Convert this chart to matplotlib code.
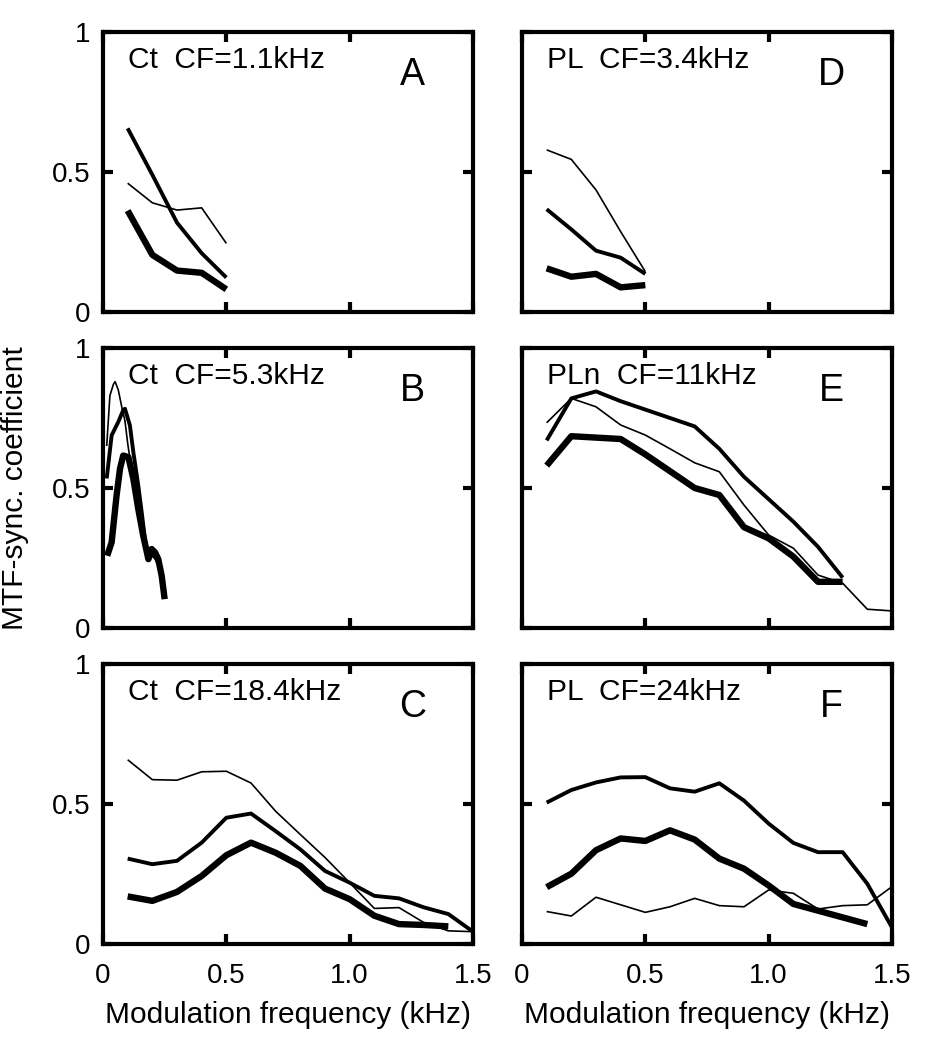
import numpy as np
import matplotlib
matplotlib.use("Agg")
import matplotlib.pyplot as plt

plt.rcParams.update({
    "font.family": ["Liberation Sans", "DejaVu Sans"],
    "axes.linewidth": 3.0,
})

# ── data (kHz, MTF-sync coefficient) ─────────────────────────────
# panel A: Ct CF=1.1kHz
A_X     = [0.1, 0.2, 0.3, 0.4, 0.5]
A_THIN  = [0.46, 0.39, 0.364, 0.372, 0.245]
A_MED   = [0.656, 0.49, 0.319, 0.21, 0.123]
A_THICK = [0.362, 0.204, 0.148, 0.14, 0.081]

# panel D: PL CF=3.4kHz
D_X     = [0.1, 0.2, 0.3, 0.4, 0.5]
D_THIN  = [0.579, 0.545, 0.436, 0.287, 0.144]
D_MED   = [0.367, 0.295, 0.219, 0.194, 0.136]
D_THICK = [0.156, 0.126, 0.136, 0.088, 0.096]

# panel B: Ct CF=5.3kHz (fine steps)
B_X_THIN  = [0.015, 0.028, 0.042, 0.049, 0.062, 0.076, 0.089, 0.1, 0.11,
             0.125, 0.14, 0.155, 0.17, 0.185, 0.2, 0.21, 0.22]
B_THIN    = [0.65, 0.83, 0.87, 0.88, 0.85, 0.79, 0.74, 0.66, 0.6,
             0.52, 0.43, 0.35, 0.3, 0.26, 0.29, 0.25, 0.23]
B_X_MED   = [0.015, 0.035, 0.062, 0.082, 0.089, 0.109, 0.123, 0.143, 0.157,
             0.17, 0.184, 0.197, 0.204, 0.214, 0.224, 0.232]
B_MED     = [0.534, 0.688, 0.736, 0.778, 0.783, 0.724, 0.628, 0.509, 0.413,
             0.318, 0.246, 0.27, 0.258, 0.25, 0.234, 0.2]
B_X_THICK = [0.017, 0.035, 0.055, 0.069, 0.082, 0.103, 0.123, 0.143, 0.163,
             0.184, 0.197, 0.211, 0.224, 0.238, 0.25]
B_THICK   = [0.258, 0.306, 0.473, 0.569, 0.616, 0.61, 0.533, 0.425, 0.33,
             0.246, 0.282, 0.27, 0.246, 0.186, 0.103]

# panel E: PLn CF=11kHz
E_X_THIN  = [0.1, 0.2, 0.3, 0.4, 0.5, 0.6, 0.7, 0.8, 0.9, 1.0, 1.1, 1.2, 1.3, 1.4, 1.5]
E_THIN    = [0.733, 0.82, 0.79, 0.725, 0.689, 0.64, 0.59, 0.558, 0.439, 0.332,
             0.285, 0.189, 0.16, 0.067, 0.061]
E_X       = [0.1, 0.2, 0.3, 0.4, 0.5, 0.6, 0.7, 0.8, 0.9, 1.0, 1.1, 1.2, 1.3]
E_MED     = [0.67, 0.82, 0.845, 0.81, 0.78, 0.75, 0.72, 0.64, 0.54, 0.46, 0.38, 0.29, 0.18]
E_THICK   = [0.58, 0.685, 0.68, 0.675, 0.62, 0.56, 0.50, 0.475, 0.36, 0.32, 0.255, 0.165, 0.165]

# panel C: Ct CF=18.4kHz
C_X       = [0.1, 0.2, 0.3, 0.4, 0.5, 0.6, 0.7, 0.8, 0.9, 1.0, 1.1, 1.2, 1.3, 1.4, 1.5]
C_THIN    = [0.658, 0.587, 0.585, 0.615, 0.617, 0.575, 0.474, 0.391, 0.309, 0.219,
             0.127, 0.13, 0.077, 0.047, 0.044]
C_MED     = [0.305, 0.285, 0.297, 0.362, 0.451, 0.466, 0.403, 0.338, 0.261, 0.219,
             0.172, 0.163, 0.131, 0.107, 0.044]
C_X_THICK = [0.1, 0.2, 0.3, 0.4, 0.5, 0.6, 0.7, 0.8, 0.9, 1.0, 1.1, 1.2, 1.3, 1.4]
C_THICK   = [0.17, 0.154, 0.186, 0.243, 0.317, 0.362, 0.326, 0.279, 0.198, 0.16,
             0.101, 0.071, 0.068, 0.063]

# panel F: PL CF=24kHz
F_X       = [0.1, 0.2, 0.3, 0.4, 0.5, 0.6, 0.7, 0.8, 0.9, 1.0, 1.1, 1.2, 1.3, 1.4, 1.5]
F_THIN    = [0.116, 0.10, 0.167, 0.14, 0.113, 0.133, 0.163, 0.137, 0.133, 0.193,
             0.181, 0.125, 0.137, 0.14, 0.205]
F_MED     = [0.505, 0.55, 0.577, 0.595, 0.596, 0.556, 0.544, 0.574, 0.512, 0.43,
             0.361, 0.328, 0.328, 0.215, 0.059]
F_X_THICK = [0.1, 0.2, 0.3, 0.4, 0.5, 0.6, 0.7, 0.8, 0.9, 1.0, 1.1, 1.2, 1.3, 1.4]
F_THICK   = [0.203, 0.251, 0.335, 0.377, 0.368, 0.406, 0.373, 0.305, 0.269, 0.209,
             0.143, 0.119, 0.095, 0.071]

PANELS = [
    # (row, col, label, letter, thin, medium, thick)
    (0, 0, "Ct  CF=1.1kHz", "A", (A_X, A_THIN), (A_X, A_MED), (A_X, A_THICK)),
    (1, 0, "Ct  CF=5.3kHz", "B", (B_X_THIN, B_THIN), (B_X_MED, B_MED), (B_X_THICK, B_THICK)),
    (2, 0, "Ct  CF=18.4kHz", "C", (C_X, C_THIN), (C_X, C_MED), (C_X_THICK, C_THICK)),
    (0, 1, "PL  CF=3.4kHz", "D", (D_X, D_THIN), (D_X, D_MED), (D_X, D_THICK)),
    (1, 1, "PLn  CF=11kHz", "E", (E_X_THIN, E_THIN), (E_X, E_MED), (E_X, E_THICK)),
    (2, 1, "PL  CF=24kHz", "F", (F_X, F_THIN), (F_X, F_MED), (F_X_THICK, F_THICK)),
]

LW = [1.2, 2.8, 4.6]

# ── layout (figure fractions) ────────────────────────────────────
W, H = 928, 1050
COL_X = [103 / W, 522 / W]
AX_W = 370 / W
ROW_TOP = [32, 348, 664]
AX_H = 280 / H

fig = plt.figure(figsize=(W / 100, H / 100), dpi=100)

for row, col, label, letter, thin, med, thick in PANELS:
    ax = fig.add_axes([COL_X[col], 1 - (ROW_TOP[row] + 280) / H, AX_W, AX_H])
    for (xs, ys), lw in zip([thin, med, thick], LW):
        ax.plot(xs, ys, color="black", lw=lw, solid_capstyle="butt",
                solid_joinstyle="round", clip_on=False)
    ax.set_xlim(0, 1.5)
    ax.set_ylim(0, 1)
    ax.set_xticks([0, 0.5, 1.0, 1.5])
    ax.set_yticks([0, 0.5, 1])
    ax.tick_params(direction="in", length=7, width=3, top=True, right=True,
                   labelsize=20)
    ax.tick_params(axis="x", pad=14)
    ax.tick_params(axis="y", pad=9)
    if col == 0:
        ax.set_yticklabels(["0", "0.5", "1"])
    else:
        ax.set_yticklabels([])
    if row == 2:
        ax.set_xticklabels(["0", "0.5", "1.0", "1.5"])
        ax.set_xlabel("Modulation frequency (kHz)", fontsize=21.5, labelpad=8)
    else:
        ax.set_xticklabels([])
    ax.text(0.103, 0.9, label, fontsize=21.5, ha="left", va="center")
    ax.text(1.255, 0.845, letter, fontsize=27, ha="center", va="center")

fig.text(15 / W, 1 - 488 / H, "MTF-sync. coefficient", rotation=90,
         fontsize=21.5, ha="center", va="center")

fig.savefig("out.png", dpi=100)
